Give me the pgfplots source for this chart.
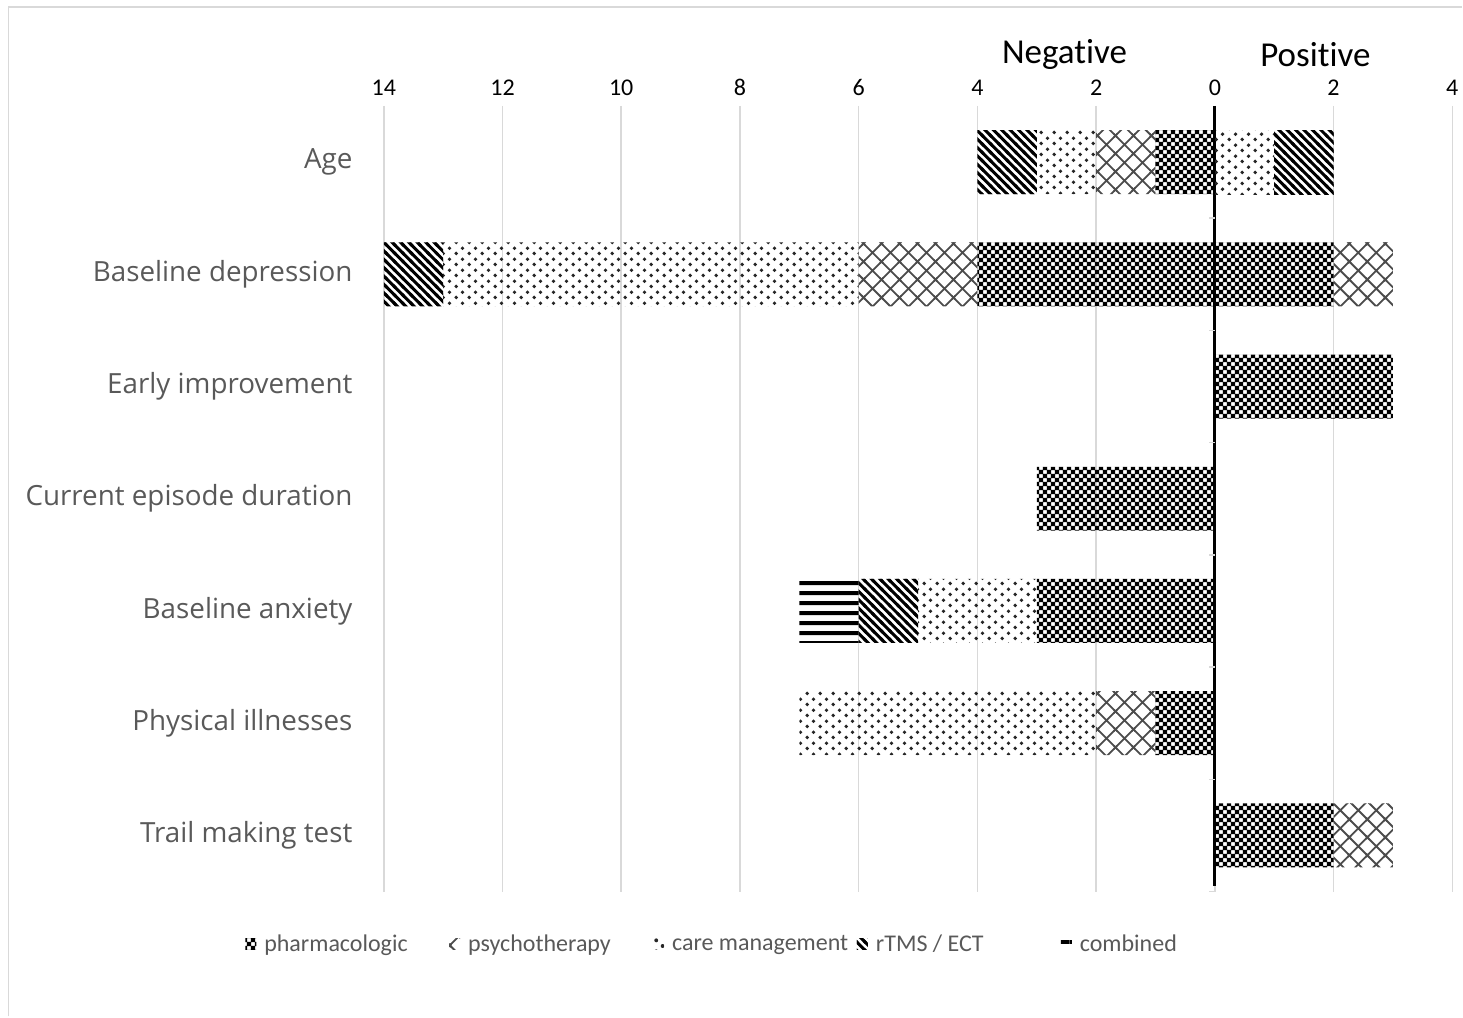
\documentclass[border=0pt]{standalone}
\usepackage{pgfplots}
\pgfplotsset{compat=1.18}
\usepackage{fontspec}
\setmainfont{Carlito}[Ligatures=NoCommon]
\newfontfamily\catfont{Open Sans}
\usetikzlibrary{patterns}
\definecolor{txtgray}{HTML}{595959}
\definecolor{gridgray}{HTML}{D9D9D9}

% pharmacologic: dark checkerboard
\pgfdeclarepatternformonly{pharma}{\pgfpointorigin}{\pgfqpoint{4pt}{4pt}}{\pgfqpoint{4pt}{4pt}}{%
  \pgfpathrectangle{\pgfpointorigin}{\pgfqpoint{4pt}{4pt}}%
  \pgfpathrectangle{\pgfqpoint{2.1pt}{0.1pt}}{\pgfqpoint{1.8pt}{1.8pt}}%
  \pgfpathrectangle{\pgfqpoint{0.1pt}{2.1pt}}{\pgfqpoint{1.8pt}{1.8pt}}%
  \pgfseteorule\pgfusepath{fill}}
% psychotherapy: diamond crosshatch
\pgfdeclarepatternformonly{psych}{\pgfqpoint{-1pt}{-1pt}}{\pgfqpoint{10pt}{10pt}}{\pgfqpoint{9pt}{9pt}}{%
  \pgfsetlinewidth{0.9pt}%
  \pgfpathmoveto{\pgfqpoint{-1pt}{-1pt}}\pgfpathlineto{\pgfqpoint{10pt}{10pt}}%
  \pgfpathmoveto{\pgfqpoint{-1pt}{10pt}}\pgfpathlineto{\pgfqpoint{10pt}{-1pt}}%
  \pgfusepath{stroke}}
% care management: dots
\pgfdeclarepatternformonly{care}{\pgfpointorigin}{\pgfqpoint{6.67pt}{5.33pt}}{\pgfqpoint{6.67pt}{5.33pt}}{%
  \pgfpathcircle{\pgfqpoint{1.67pt}{1.33pt}}{1pt}%
  \pgfpathcircle{\pgfqpoint{5pt}{4pt}}{1pt}%
  \pgfusepath{fill}}
% rTMS / ECT: thick north-west stripes
\pgfdeclarepatternformonly{rtms}{\pgfqpoint{-1pt}{-1pt}}{\pgfqpoint{5.2pt}{5.2pt}}{\pgfqpoint{4.2pt}{4.2pt}}{%
  \pgfsetlinewidth{1.5pt}%
  \pgfpathmoveto{\pgfqpoint{-1pt}{5.2pt}}\pgfpathlineto{\pgfqpoint{5.2pt}{-1pt}}%
  \pgfusepath{stroke}}
% combined: horizontal lines
\pgfdeclarepatternformonly{comb}{\pgfqpoint{0pt}{0pt}}{\pgfqpoint{5pt}{5pt}}{\pgfqpoint{5pt}{5pt}}{%
  \pgfpathrectangle{\pgfqpoint{0pt}{1.5pt}}{\pgfqpoint{5pt}{2pt}}%
  \pgfusepath{fill}}

\newcommand{\lent}[1]{\makebox[92.5pt][l]{#1}}

\begin{document}
\begin{tikzpicture}
\path (0,0) rectangle (731.5pt,508.5pt);
\draw[gridgray, line width=0.75pt] (4.25pt,0) -- (4.25pt,505pt) -- (731.5pt,505pt);
\begin{axis}[
  at={(192pt,62.5pt)}, anchor=south west, scale only axis,
  width=534.5pt, height=393pt,
  xmin=-14, xmax=4, ymin=0.5, ymax=7.5, y dir=reverse,
  xbar stacked, bar width=32pt,
  axis line style={draw=none},
  major tick length=0pt,
  xtick={-14,-12,...,4}, xticklabel pos=top,
  xticklabel={\pgfmathparse{abs(\tick)}\pgfmathprintnumber{\pgfmathresult}},
  /pgf/number format/assume math mode=true,
  xticklabel style={font=\fontsize{12}{14}\selectfont, text=black, inner sep=0pt, yshift=5pt},
  xmajorgrids, grid style={gridgray, line width=0.75pt},
  ytick={1,...,7},
  yticklabels={Age, Baseline depression, Early improvement, Current episode duration, Baseline anxiety, Physical illnesses, Trail making test},
  yticklabel style={font=\catfont\fontsize{13.9}{16}\selectfont, text=txtgray, anchor=east, inner sep=0pt, xshift=-15.5pt},
  legend columns=5,
  legend image code/.code={\path[#1, draw=none] (0pt,-2.6pt) rectangle (5.5pt,2.6pt);},
  legend style={at={(axis description cs:-0.130,-0.067)}, anchor=west, draw=none, fill=none,
    inner sep=0pt, font=\fontsize{12}{14}\selectfont, text=txtgray,
    nodes={inner sep=0pt, anchor=west},
    /tikz/every odd column/.append style={column sep=4pt}},
]
% negative side (stacked outward from 0)
\addplot[draw=none, pattern=pharma, pattern color=black] coordinates {(-1,1) (-4,2) (0,3) (-3,4) (-3,5) (-1,6) (0,7)};
\addlegendentry{\lent{pharmacologic}}
\addplot[draw=none, pattern=psych, pattern color=black!70] coordinates {(-1,1) (-2,2) (0,3) (0,4) (0,5) (-1,6) (0,7)};
\addlegendentry{\lent{psychotherapy}}
\addplot[draw=none, pattern=care, pattern color=black!85] coordinates {(-1,1) (-7,2) (0,3) (0,4) (-2,5) (-5,6) (0,7)};
\addlegendentry{\lent{care management}}
\addplot[draw=none, pattern=rtms, pattern color=black] coordinates {(-1,1) (-1,2) (0,3) (0,4) (-1,5) (0,6) (0,7)};
\addlegendentry{\lent{rTMS / ECT}}
\addplot[draw=none, pattern=comb, pattern color=black] coordinates {(0,1) (0,2) (0,3) (0,4) (-1,5) (0,6) (0,7)};
\addlegendentry{combined}
% positive side (stacked separately from the negative values)
\addplot[draw=none, pattern=pharma, pattern color=black, forget plot] coordinates {(0,1) (2,2) (3,3) (0,4) (0,5) (0,6) (2,7)};
\addplot[draw=none, pattern=psych, pattern color=black!70, forget plot] coordinates {(0,1) (1,2) (0,3) (0,4) (0,5) (0,6) (1,7)};
\addplot[draw=none, pattern=care, pattern color=black!85, forget plot] coordinates {(1,1) (0,2) (0,3) (0,4) (0,5) (0,6) (0,7)};
\addplot[draw=none, pattern=rtms, pattern color=black, forget plot] coordinates {(1,1) (0,2) (0,3) (0,4) (0,5) (0,6) (0,7)};
\pgfplotsinvokeforeach{1.5,2.5,3.5,4.5,5.5,6.5,7.5}{\draw[gridgray, line width=0.75pt] (axis cs:0,#1) -- ++(-3pt,0pt);}
\draw[black, line width=1.5pt] (axis cs:0,0.5) -- (axis cs:0,7.45);
\end{axis}
\node[font=\fontsize{17.5}{20}\selectfont] at (532.5pt,481pt) {Negative};
\node[font=\fontsize{17.5}{20}\selectfont] at (658pt,481pt) {Positive};
\end{tikzpicture}
\end{document}
